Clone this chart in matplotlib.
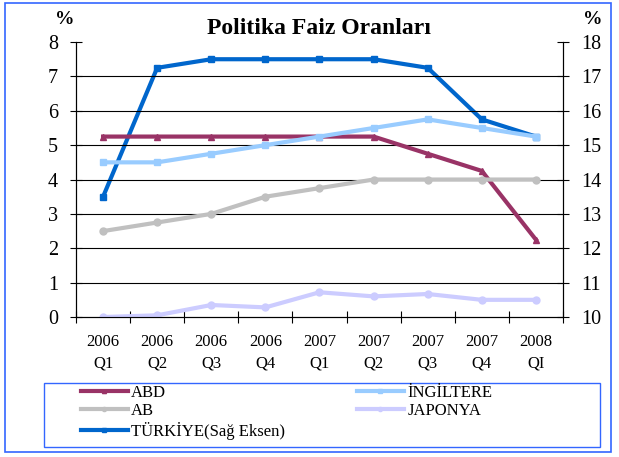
import matplotlib.pyplot as plt
from matplotlib.patches import Rectangle

# data
quarters = ['2006\nQ1', '2006\nQ2', '2006\nQ3', '2006\nQ4', '2007\nQ1',
            '2007\nQ2', '2007\nQ3', '2007\nQ4', '2008\nQI']
abd = [5.25, 5.25, 5.25, 5.25, 5.25, 5.25, 4.75, 4.25, 2.25]
ingiltere = [4.5, 4.5, 4.75, 5.0, 5.25, 5.5, 5.75, 5.5, 5.25]
ab = [2.5, 2.75, 3.0, 3.5, 3.75, 4.0, 4.0, 4.0, 4.0]
japonya = [0.0, 0.05, 0.35, 0.28, 0.72, 0.6, 0.67, 0.5, 0.5]
turkiye = [13.5, 17.25, 17.5, 17.5, 17.5, 17.5, 17.25, 15.75, 15.25]

plt.rcParams['font.family'] = ['Liberation Serif', 'DejaVu Serif']

fig = plt.figure(figsize=(6.19, 4.57), dpi=100)
ax = fig.add_axes([0.1228, 0.3063, 0.7867, 0.6017])
ax2 = ax.twinx()

x = list(range(len(quarters)))
lw = 3
l_abd, = ax.plot(x, abd, color='#993366', lw=lw, marker='^', ms=5, label='ABD')
l_ing, = ax.plot(x, ingiltere, color='#99CCFF', lw=lw, marker='s', ms=5, label='İNGİLTERE')
l_ab, = ax.plot(x, ab, color='#C0C0C0', lw=lw, marker='o', ms=5, label='AB')
l_jap, = ax.plot(x, japonya, color='#CCCCFF', lw=lw, marker='o', ms=5, label='JAPONYA')
l_tr, = ax2.plot(x, turkiye, color='#0066CC', lw=lw, marker='s', ms=5, label='TÜRKİYE(Sağ Eksen)')

ax.set_xlim(-0.5, len(quarters) - 0.5)
ax.set_ylim(0, 8)
ax2.set_ylim(10, 18)
ax.set_yticks(range(0, 9))
ax2.set_yticks(range(10, 19))
for y in range(1, 8):
    ax.axhline(y, color='black', lw=0.8, zorder=0)

ax.set_xticks(x)
ax.set_xticklabels(quarters, fontsize=12, linespacing=1.5)
ax.set_xticks([i - 0.5 for i in range(len(quarters) + 1)], minor=True)
ax.tick_params(axis='x', which='major', length=0, pad=12)
ax.tick_params(axis='x', which='minor', direction='inout', length=8, width=0.8)
ax.tick_params(axis='y', direction='inout', length=8, width=0.8, labelsize=14.5, pad=9)
ax2.tick_params(axis='y', direction='inout', length=8, width=0.8, labelsize=14.5, pad=9)

for a in (ax, ax2):
    a.spines['top'].set_visible(False)
    a.spines['left'].set_linewidth(0.8)
    a.spines['right'].set_linewidth(0.8)
    a.spines['bottom'].set_linewidth(0.8)
ax.set_zorder(ax2.get_zorder() + 1)
ax.patch.set_visible(False)

fig.text(0.515, 0.938, 'Politika Faiz Oranları', ha='center', va='center',
         fontsize=17, fontweight='bold')
fig.text(0.105, 0.957, '%', ha='center', va='center', fontsize=14, fontweight='bold')
fig.text(0.957, 0.957, '%', ha='center', va='center', fontsize=14, fontweight='bold')

# legend: two separate columns inside one blue frame
leg_kw = dict(loc='upper left', fontsize=12, frameon=False, borderpad=0,
              labelspacing=0.15, handlelength=2.8, handletextpad=0.2,
              borderaxespad=0)
col1 = [l_abd, l_ab, l_tr]
col2 = [l_ing, l_jap]
leg1 = fig.legend(handles=col1, labels=[h.get_label() for h in col1],
                  bbox_to_anchor=(0.131, 0.158), **leg_kw)
leg2 = fig.legend(handles=col2, labels=[h.get_label() for h in col2],
                  bbox_to_anchor=(0.577, 0.158), **leg_kw)
for lg in (leg1, leg2):
    for h in lg.legend_handles:
        h.set_markersize(3)

fig.patches.append(Rectangle((0.071, 0.022), 0.899, 0.140, transform=fig.transFigure,
                             fill=False, edgecolor='#3366FF', lw=1.0))
fig.patches.append(Rectangle((0.008, 0.011), 0.979, 0.982, transform=fig.transFigure,
                             fill=False, edgecolor='#3366FF', lw=1.2))

plt.savefig('out.png', dpi=100)
